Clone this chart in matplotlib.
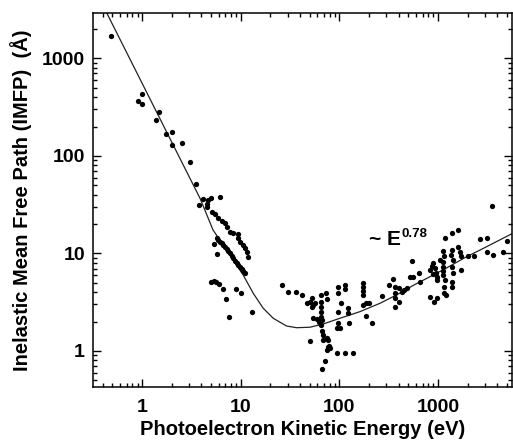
import numpy as np
import matplotlib
matplotlib.use("Agg")
import matplotlib.pyplot as plt
from matplotlib.ticker import LogLocator, NullFormatter, FixedLocator, FixedFormatter

plt.rcParams['font.family'] = ['Liberation Sans', 'DejaVu Sans']
plt.rcParams['font.weight'] = 'bold'

# measured IMFP points: kinetic energy (eV) and IMFP (A)
energy = [0.49, 0.90, 1.0, 1.0, 1.40, 1.50, 1.74, 2.01, 2.03, 2.52, 3.04,
          3.52, 3.78, 4.12, 4.53, 4.59, 4.70, 5.0, 6.17,
          # upper diagonal run
          5.08, 5.50, 5.93, 6.42, 6.93, 7.31, 7.79, 8.30, 9.33, 9.46, 9.84,
          10.5, 11.1, 11.5, 11.9,
          # lower diagonal run
          5.71, 5.93, 6.17, 6.42, 6.66, 6.93, 7.21, 7.49, 7.79, 8.11, 8.41,
          8.75, 9.10, 9.46, 9.84, 10.2, 10.6, 11.1,
          5.36, 5.71,
          # low points near 10 eV
          5.0, 5.36, 5.62, 6.07, 6.66, 8.90, 10.0, 7.10, 7.67, 12.9,
          # around the minimum
          26.0, 30.4, 36.3, 42.1, 46.6, 50.4, 52.4, 52.4, 54.4, 56.6,
          64.7, 64.7, 64.7, 64.7, 64.7, 73.1, 74.3, 54.4, 58.9, 62.6, 66.2,
          64.7, 66.2, 67.8, 68.7, 74.3, 77.2, 79.0, 80.3, 74.3, 77.2, 50.4,
          94.0, 114, 136, 71.5, 66.2,
          97.5, 97.5, 114, 114, 105, 97.5, 97.5, 101, 95.2, 123, 123, 126,
          172, 172, 172, 172, 175, 186, 201, 186, 212, 268, 321, 352,
          366, 366, 366, 366, 404, 404, 428, 454, 481,
          # high energy side
          519, 561, 640, 656, 548,
          828, 861, 894, 881, 931, 953, 968, 982, 1045, 1130, 1148, 1175,
          1130, 1130, 1130, 1130, 1175, 1156, 1148, 1203,
          1374, 1603, 1374, 1352, 1406, 1374, 1426, 1393, 1393,
          1603, 1667, 1706, 1694, 2024, 2329, 2660, 3155, 3155, 3625,
          3494, 4578, 5025, 828, 908, 982]
imfp = [1700, 363, 430, 337, 231, 283, 166, 177, 129, 136, 86,
        51.4, 31.3, 36.1, 32.1, 29.7, 35.2, 37.2, 38.1,
        26.8, 25.2, 23.2, 21.6, 20.3, 18.8, 16.7, 16.1, 15.8, 14.3, 13.2,
        12.2, 11.3, 10.4, 9.12,
        14.3, 13.7, 13.2, 12.7, 12.2, 11.5, 11.0, 10.6, 10.0, 9.47, 8.91,
        8.42, 7.97, 7.61, 7.21, 6.88, 6.56, 6.25,
        12.4, 9.86,
        5.09, 5.25, 5.09, 4.82, 4.29, 4.29, 3.90, 3.38, 2.25, 2.49,
        4.75, 4.05, 4.05, 3.75, 3.08, 3.20, 3.47, 2.84, 2.96, 3.08,
        3.75, 3.20, 2.84, 2.53, 2.25, 3.90, 3.39, 2.16, 2.11, 2.00, 2.08,
        1.85, 1.61, 1.46, 1.30, 1.35, 1.30, 1.12, 1.07, 1.02, 1.09, 1.27,
        0.95, 0.95, 0.95, 0.79, 0.65,
        4.56, 3.90, 4.75, 4.29, 3.08, 2.49, 1.92, 1.71, 1.71, 2.74, 2.43, 1.92,
        5.01, 4.56, 4.15, 3.75, 2.96, 3.08, 3.13, 2.28, 1.92, 3.66, 4.75, 5.43,
        4.56, 3.96, 3.47, 2.84, 4.39, 3.20, 4.05, 4.22, 4.39,
        5.77, 5.77, 6.25, 5.13, 8.42,
        6.76, 7.43, 8.04, 6.11, 7.08, 6.34, 5.77, 5.34, 8.56, 10.7, 9.40, 14.3,
        8.22, 7.31, 6.65, 6.01, 5.34, 4.56, 3.90, 3.75,
        16.1, 17.4, 10.8, 9.63, 8.56, 7.21, 6.25, 5.13, 4.50,
        11.7, 10.4, 9.40, 6.76, 9.40, 9.40, 13.9, 14.3, 10.4, 9.63,
        30.6, 10.4, 13.4, 3.55, 3.20, 3.47]

# universal curve
curve_e = [0.44, 3.87, 5.24, 10.6, 13.4, 16.9, 21.4, 29.2, 36.9, 50.4, 68.7,
           101, 162, 258, 380, 561, 894, 1222, 1950, 2655, 5740]
curve_l = [2900, 36.7, 17.4, 6.0, 3.9, 2.74, 2.16, 1.80, 1.73, 1.75, 1.89,
           2.16, 2.53, 3.08, 3.75, 4.7, 6.0, 7.1, 9.25, 10.8, 16.1]

xticks = [1, 10, 100, 1000]
yticks = [1, 10, 100, 1000]

fig = plt.figure(figsize=(5.13, 4.46), dpi=100)
ax = fig.add_axes([0.182, 0.133, 0.816, 0.837])

ax.plot(curve_e, curve_l, color='#222222', lw=0.9)
ax.plot(energy, imfp, 'o', color='black', ms=3.8, mew=0)

ax.set_xscale('log')
ax.set_yscale('log')
ax.set_xlim(0.321, 5620)
ax.set_ylim(0.43, 2890)

for axis, ticks in ((ax.xaxis, xticks), (ax.yaxis, yticks)):
    axis.set_major_locator(FixedLocator(ticks))
    axis.set_major_formatter(FixedFormatter([str(t) for t in ticks]))
    axis.set_minor_locator(LogLocator(base=10, subs=np.arange(2, 10), numticks=20))
    axis.set_minor_formatter(NullFormatter())

ax.tick_params(which='both', direction='in', top=True, right=True, width=1.0)
ax.tick_params(which='major', length=6, labelsize=14)
ax.tick_params(axis='x', which='major', pad=9)
ax.tick_params(axis='y', which='major', pad=6)
ax.tick_params(which='minor', length=3)
for s in ax.spines.values():
    s.set_linewidth(1.1)

ax.set_xlabel('Photoelectron Kinetic Energy (eV)', fontsize=14.5, fontweight='bold', labelpad=3)
ax.set_ylabel('Inelastic Mean Free Path (IMFP)  (Å)', fontsize=14.5, fontweight='bold', labelpad=7)

ax.text(200, 12.2, '~ E', fontsize=15, fontweight='bold', va='baseline')
ax.text(431, 14.6, '0.78', fontsize=9.5, fontweight='bold', va='baseline')

fig.savefig('out.png', dpi=100)
